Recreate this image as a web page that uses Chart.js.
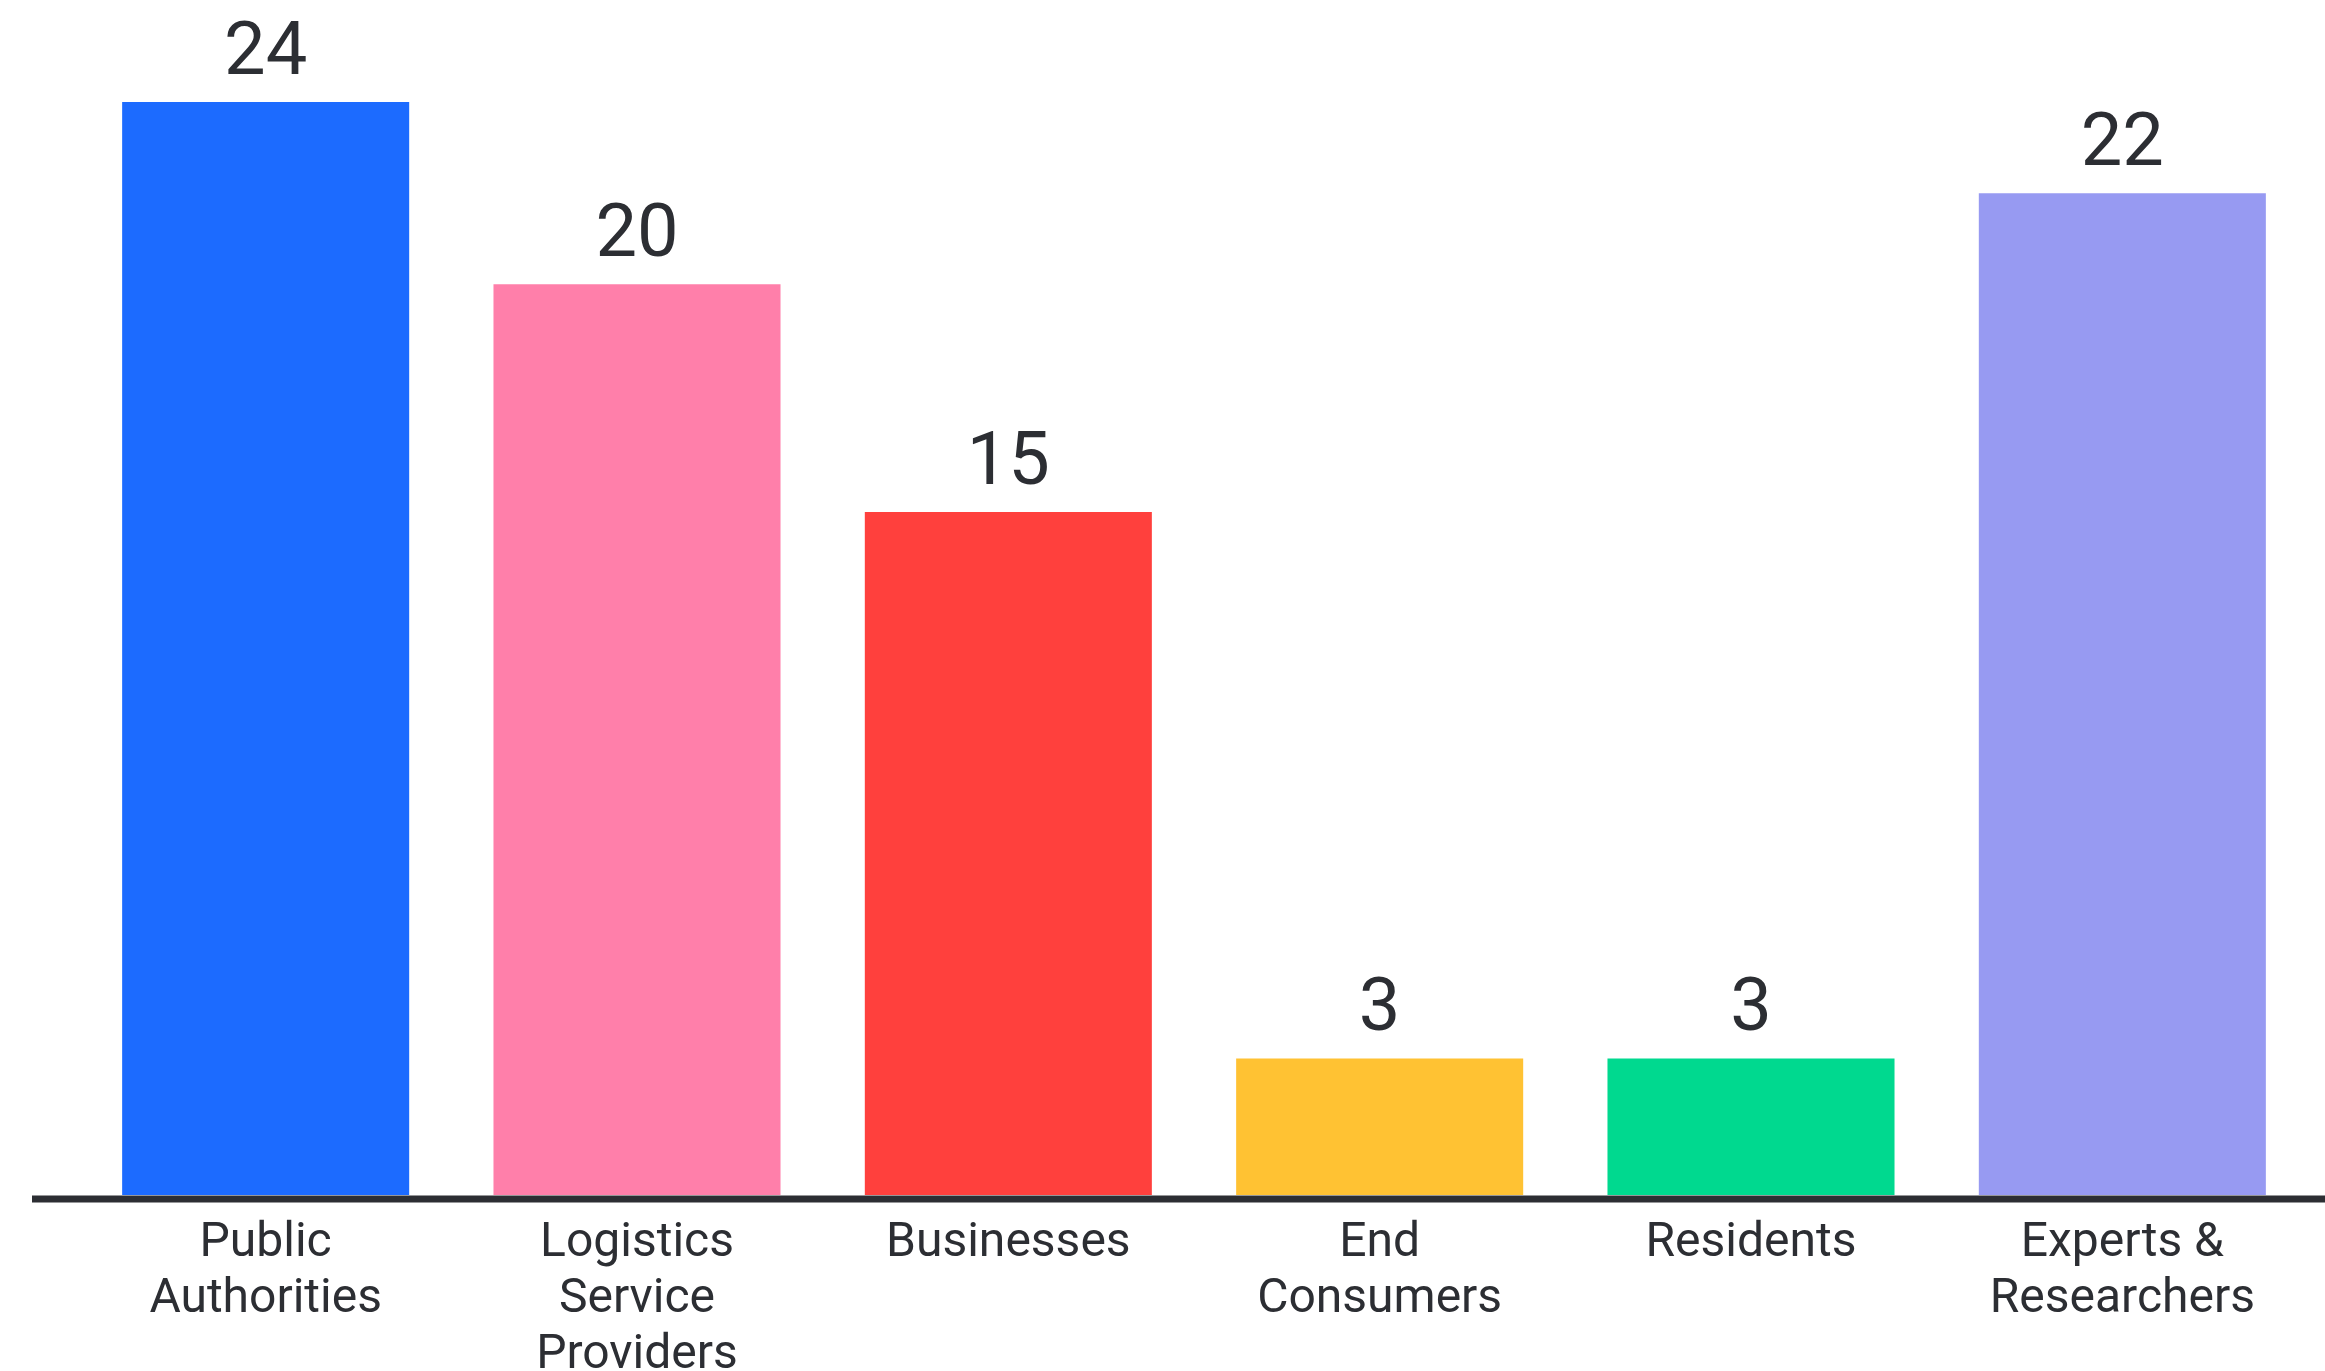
<!DOCTYPE html>
<html>
<head>
<meta charset="utf-8">
<script src="https://cdn.jsdelivr.net/npm/chart.js@4"></script>
<style>
  html, body { margin: 0; padding: 0; background: #ffffff; }
  #wrap { width: 2325px; height: 1371px; position: relative; }
</style>
</head>
<body>
<div id="wrap"><canvas id="stakeholder-chart"></canvas></div>
<script>
const CATEGORY_LABELS = [
  ['Public', 'Authorities'],
  ['Logistics', 'Service', 'Providers'],
  ['Businesses'],
  ['End', 'Consumers'],
  ['Residents'],
  ['Experts &', 'Researchers'],
];
const COUNTS = [24, 20, 15, 3, 3, 22];
const BAR_COLORS = ['#1c6bff', '#ff7faa', '#ff403d', '#ffc233', '#00d98f', '#979af2'];

const TEXT_COLOR = '#2c2e33';
const FONT_FAMILY = 'Roboto, "Noto Sans", sans-serif';

// value above each bar + the long baseline under them
const barExtras = {
  id: 'barExtras',
  afterDatasetsDraw(chart) {
    const { ctx, chartArea } = chart;
    const meta = chart.getDatasetMeta(0);
    ctx.save();
    ctx.fillStyle = TEXT_COLOR;
    ctx.font = `74px ${FONT_FAMILY}`;
    ctx.textAlign = 'center';
    ctx.textBaseline = 'alphabetic';
    meta.data.forEach((bar, i) => {
      ctx.fillText(String(COUNTS[i]), bar.x, bar.y - 28);
    });

    ctx.strokeStyle = TEXT_COLOR;
    ctx.lineWidth = 7;
    ctx.beginPath();
    ctx.moveTo(chartArea.left - 48, chartArea.bottom + 4);
    ctx.lineTo(chart.width, chartArea.bottom + 4);
    ctx.stroke();
    ctx.restore();
  },
};

const ctx = document.getElementById('stakeholder-chart');
new Chart(ctx, {
  type: 'bar',
  data: {
    labels: CATEGORY_LABELS,
    datasets: [
      {
        data: COUNTS,
        backgroundColor: BAR_COLORS,
        borderWidth: 0,
        barPercentage: 0.773,
        categoryPercentage: 1,
      },
    ],
  },
  options: {
    responsive: true,
    maintainAspectRatio: false,
    animation: false,
    layout: { padding: { top: 11, left: 80, right: 17, bottom: 0 } },
    plugins: {
      legend: { display: false },
      tooltip: { enabled: false },
    },
    scales: {
      x: {
        grid: { display: false, drawTicks: false },
        border: { display: false },
        afterFit: (scale) => { scale.height = 176; },
        ticks: {
          color: TEXT_COLOR,
          padding: 21,
          maxRotation: 0,
          autoSkip: false,
          font: { family: FONT_FAMILY, size: 48, lineHeight: 1.167 },
        },
      },
      y: {
        display: false,
        min: 0,
        max: 26,
      },
    },
  },
  plugins: [barExtras],
});
</script>
</body>
</html>
